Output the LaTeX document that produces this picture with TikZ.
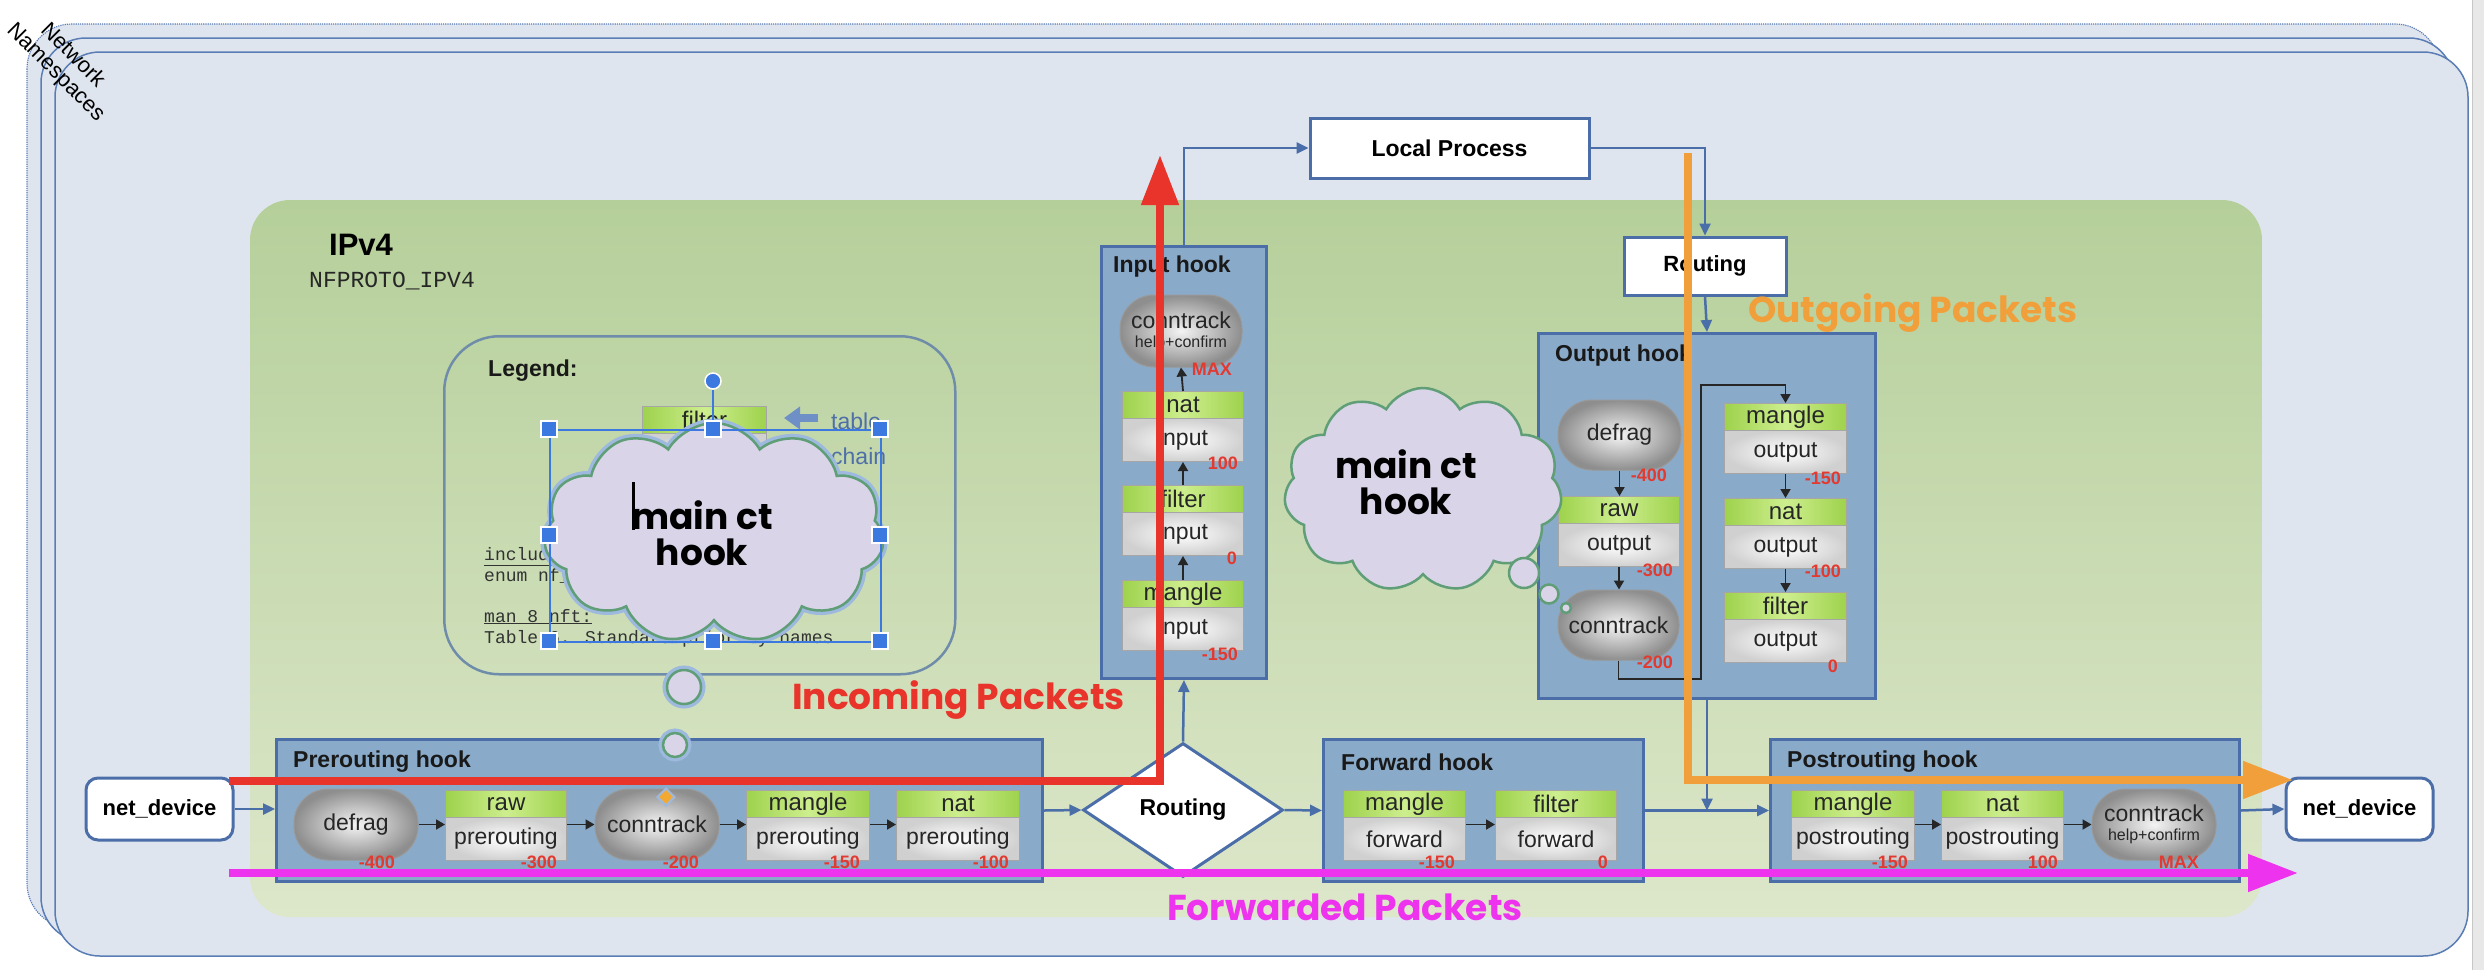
\documentclass[tikz,border=0pt]{standalone}
\usepackage{fontspec}
\setmainfont{Liberation Sans}
\newfontfamily\popfont{Poppins}
\newfontfamily\lmono{Liberation Mono}
\usetikzlibrary{shapes.geometric,shapes.symbols,arrows.meta,calc}
\newcommand\fsz[1]{\fontsize{#1}{#1}\selectfont}
\definecolor{frameFill}{HTML}{DFE5EE}
\definecolor{frameLine}{HTML}{5A7DB5}
\definecolor{greenTop}{HTML}{B5CF9A}
\definecolor{greenBot}{HTML}{DDE7CA}
\definecolor{hookFill}{HTML}{8AAAC9}
\definecolor{hookLine}{HTML}{4B6EA9}
\definecolor{hdrA}{HTML}{9ED24C}
\definecolor{hdrB}{HTML}{CDEE8E}
\definecolor{bodyG}{HTML}{D0D0D0}
\definecolor{pillIn}{HTML}{F4F4F4}
\definecolor{pillOut}{HTML}{8E8E8E}
\definecolor{prioRed}{HTML}{E23A30}
\definecolor{conn}{HTML}{4A6FA8}
\definecolor{inRed}{HTML}{E8342A}
\definecolor{outOrg}{HTML}{F09F3A}
\definecolor{fwdPink}{HTML}{EE33EE}
\definecolor{cloudFill}{HTML}{D9D4E8}
\definecolor{cloudLine}{HTML}{5F9E76}
\definecolor{glow}{HTML}{9DB9DE}
\definecolor{selBlue}{HTML}{3B78E0}
\definecolor{legLine}{HTML}{6F8DAA}
\definecolor{tblBlue}{HTML}{4F6FA8}
\definecolor{tblArrow}{HTML}{6E90C6}
\newcommand\tbl[6]{%
  \node[hdr, minimum width=#4pt, anchor=north west] (#1h) at (#2,#3) {#5};
  \node[bdy, minimum width=#4pt, anchor=north west] (#1) at (#2,#3+27) {#6};}
\begin{document}
\begin{tikzpicture}[x=1pt,y=-1pt,
 hook/.style={draw=hookLine, fill=hookFill, line width=3pt, inner sep=0pt, anchor=north west},
 hdr/.style={draw=black!35, line width=1pt, left color=hdrA, right color=hdrA, middle color=hdrB, minimum height=27pt, inner sep=0pt, font=\fsz{24}, text=black!85},
 bdy/.style={draw=black!35, line width=1pt, inner color=white, outer color=bodyG, minimum height=43pt, inner sep=0pt, font=\fsz{23}, text=black!85},
 pill/.style={draw=black!40, line width=1pt, rounded corners=34pt, inner color=pillIn, outer color=pillOut, inner sep=0pt, align=center, font=\fsz{23}, text=black!85},
 prio/.style={text=prioRed, font=\bfseries\fsz{18}, inner sep=0pt, anchor=east},
 title/.style={font=\bfseries\fsz{23}, inner sep=0pt, anchor=west, text=black!90},
 wbox/.style={draw=hookLine, fill=white, line width=3pt, inner sep=0pt, font=\bfseries\fsz{22}},
 conn/.style={draw=conn, line width=2.5pt, -{Triangle[length=12pt,width=11pt]}},
 ia/.style={draw=black!85, line width=1.8pt, -{Triangle[length=9pt,width=10pt]}},
 pk/.style={line width=8pt, line join=miter, -{Triangle[length=50pt,width=36pt]}},
 pklab/.style={font=\popfont\bfseries\fsz{36}, inner sep=0pt, anchor=base west},
 cl/.style={cloud, cloud puffs=11, cloud puff arc=120, fill=cloudFill, draw=cloudLine, line width=2.5pt, inner sep=0pt},
 bub/.style={circle, fill=cloudFill, draw=cloudLine, line width=2.5pt, inner sep=0pt},
 glw/.style={preaction={draw=glow, line width=9pt}},
 cltext/.style={font=\popfont\bfseries\fsz{36}, align=center, inner sep=0pt},
 handle/.style={draw=white, line width=1.5pt, fill=selBlue, minimum size=16pt, inner sep=0pt},
 mono/.style={font=\lmono\fsz{18}, inner sep=0pt, anchor=base west, text=black!80},
]
\useasboundingbox (0,0) rectangle (2484,970);
\fill[white] (0,0) rectangle (2484,970);
\fill[black!9] (2472,0) rectangle (2484,970);
\draw[black!22, line width=1pt] (2472,0) -- (2472,970);
% namespace frames
\draw[frameLine, densely dotted, line width=1.2pt, fill=frameFill, rounded corners=45pt] (27,24) rectangle (2440,928);
\draw[frameLine, line width=1.5pt, fill=frameFill, rounded corners=45pt] (41,38) rectangle (2454,942);
\draw[frameLine, line width=1.5pt, fill=frameFill, rounded corners=45pt] (55,52) rectangle (2468,956);
\node[rotate=-45, align=center, font=\fontsize{22}{24}\selectfont, inner sep=0pt] (ns) at (64,64) {Network\\Namespaces};
% IPv4 region
\shade[top color=greenTop, bottom color=greenBot, rounded corners=40pt] (250,200) rectangle (2262,917);
\node[font=\bfseries\fsz{31}, inner sep=0pt, anchor=base west] (ipv4) at (329,255) {IPv4};
\node[font=\lmono\fsz{23}, inner sep=0pt, anchor=base west, text=black!85] (nfp) at (309,287) {NFPROTO\_IPV4};
% legend
\node[draw=legLine, line width=2.5pt, rounded corners=55pt, minimum width=511pt, minimum height=338pt, anchor=north west] (legend) at (443,335) {};
\node[title] (legt) at (488,371) {Legend:};
\tbl{lf}{642}{406}{124}{filter}{}
\coordinate (ta0) at (818,418); \coordinate (ta1) at (784,418);
\draw[tblArrow, line width=8pt, -{Triangle[length=16pt,width=22pt]}] (ta0) -- (ta1);
\node[font=\fsz{23}, text=tblBlue, anchor=west, inner sep=0pt] (ltab) at (831,421) {table};
\node[font=\fsz{23}, text=tblBlue, anchor=west, inner sep=0pt] (lch) at (831,456) {chain};
\node[mono] (li1) at (484,560) {\underline{include/uapi/linux/netfilter\_ipv4.h:}};
\node[mono] (li2) at (484,581) {enum nf\_ip\_hook\_priorities};
\node[mono] (li3) at (484,622) {\underline{man 8 nft:}};
\node[mono] (li4) at (484,643) {Table 6. Standard priority names};
% hooks
\node[hook, minimum width=766pt, minimum height=142pt] (pre) at (275,738) {};
\node[hook, minimum width=320pt, minimum height=142pt] (fwd) at (1322,738) {};
\node[hook, minimum width=469pt, minimum height=142pt] (post) at (1769,738) {};
\node[hook, minimum width=165pt, minimum height=432pt] (inp) at (1100,245) {};
\node[hook, minimum width=337pt, minimum height=365pt] (out) at (1537,332) {};
\node[title] (pret) at (293,762) {Prerouting hook};
\node[title] (fwdt) at (1341,762) {Forward hook};
\node[title] (postt) at (1787,762) {Postrouting hook};
\node[title] (inpt) at (1113,267) {Input hook};
\node[title] (outt) at (1555,356) {Output hook};
% prerouting
\node[pill, minimum width=124pt, minimum height=71pt] (pdef) at (356,824.5) {defrag};
\tbl{praw}{445}{790}{121}{raw}{prerouting}
\node[pill, minimum width=124pt, minimum height=71pt] (pct) at (657,824.5) {conntrack};
\tbl{pman}{746}{790}{123}{mangle}{prerouting}
\tbl{pnat}{896}{790}{123}{nat}{prerouting}
\node[prio] (pp1) at (395,862) {-400};
\node[prio] (pp2) at (557,862) {-300};
\node[prio] (pp3) at (699,862) {-200};
\node[prio] (pp4) at (860,862) {-150};
\node[prio] (pp5) at (1009,862) {-100};
% forward
\tbl{fman}{1343}{790}{122}{mangle}{forward}
\tbl{ffil}{1495}{790}{121}{filter}{forward}
\node[prio] (fp1) at (1455,862) {-150};
\node[prio] (fp2) at (1608,862) {0};
% postrouting
\tbl{qman}{1791}{790}{123}{mangle}{postrouting}
\tbl{qnat}{1941}{790}{122}{nat}{postrouting}
\node[pill, minimum width=124pt, minimum height=71pt] (qct) at (2154,824.5) {conntrack\\[-4pt]\fsz{16}help+confirm};
\node[prio] (qp1) at (1908,862) {-150};
\node[prio] (qp2) at (2058,862) {100};
\node[prio] (qp3) at (2199,862) {MAX};
% input
\node[pill, minimum width=122pt, minimum height=72pt] (ict) at (1181,331) {conntrack\\[-4pt]\fsz{16}help+confirm};
\tbl{inat}{1122}{391}{121}{nat}{input}
\tbl{ifil}{1122}{485}{121}{filter}{input}
\tbl{iman}{1122}{580}{121}{mangle}{input}
\node[prio] (ip1) at (1232,369) {MAX};
\node[prio] (ip2) at (1238,463) {100};
\node[prio] (ip3) at (1237,558) {0};
\node[prio] (ip4) at (1238,654) {-150};
% output
\node[pill, minimum width=123pt, minimum height=70pt] (odef) at (1619.5,435) {defrag};
\tbl{oraw}{1558}{496}{121}{raw}{output}
\node[pill, minimum width=121pt, minimum height=70pt] (oct) at (1618.5,625) {conntrack};
\tbl{oman}{1724}{403}{122}{mangle}{output}
\tbl{onat}{1724}{498}{122}{nat}{output}
\tbl{ofil}{1724}{592}{122}{filter}{output}
\node[prio] (op1) at (1667,475) {-400};
\node[prio] (op2) at (1673,570) {-300};
\node[prio] (op3) at (1673,662) {-200};
\node[prio] (op4) at (1841,478) {-150};
\node[prio] (op5) at (1841,571) {-100};
\node[prio] (op6) at (1838,666) {0};
% main boxes
\node[wbox, rounded corners=12pt, minimum width=147pt, minimum height=62pt] (nl) at (159.5,809) {net\_device};
\node[wbox, rounded corners=12pt, minimum width=147pt, minimum height=62pt] (nr) at (2359.5,809) {net\_device};
\node[diamond, draw=hookLine, fill=white, line width=3pt, minimum width=200pt, minimum height=134pt, aspect=1.49, inner sep=0pt, font=\bfseries\fsz{23}] (dia) at (1183,810) {Routing};
\node[wbox, minimum width=279pt, minimum height=60pt, font=\bfseries\fsz{23}] (lp) at (1449.5,148) {Local Process};
\node[wbox, minimum width=162pt, minimum height=58pt] (rt) at (1705,266) {Routing};
% connectors
\draw[conn] (nl.east) -- (pre.west |- nl.east);
\draw[conn] (pre.east) -- (dia.west);
\draw[conn] (dia.east) -- (fwd.west);
\draw[conn] (fwd.east) -- (post.west);
\draw[conn] (post.east) -- (nr.west);
\draw[conn] (dia.north) -- (inp.south);
\draw[conn] (inp.north) |- (lp.west);
\draw[conn] (lp.east) -| (rt.north);
\draw[conn] (rt.south) -- (out.north);
\coordinate (j) at (out.south |- fwd.east);
\draw[conn] (out.south) -- (j);
% internal arrows
\draw[ia] (pdef.east) -- (pdef.east -| praw.west);
\draw[ia] (praw.east |- pct.west) -- (pct.west);
\draw[ia] (pct.east) -- (pct.east -| pman.west);
\draw[ia] (pman.east |- pct.east) -- (pnat.west |- pct.east);
\draw[ia] (fman.east |- pct.east) -- (ffil.west |- pct.east);
\draw[ia] (qman.east |- pct.east) -- (qnat.west |- pct.east);
\draw[ia] (qnat.east |- qct.west) -- (qct.west);
\draw[ia] (imanh.north) -- (ifil.south);
\draw[ia] (ifilh.north) -- (inat.south);
\draw[ia] (inath.north) -- (ict.south);
\draw[ia] (odef.south) -- (odef.south |- orawh.north);
\draw[ia] (oraw.south) -- (oraw.south |- oct.north);
\coordinate (oc1) at (1701,679);
\coordinate (oc2) at (1701,385);
\draw[ia] (oct.south) |- (oc1) -- (oc2) -| (omanh.north);
\draw[ia] (oman.south) -- (onath.north);
\draw[ia] (onat.south) -- (ofilh.north);
% orange marker on conntrack
\node[diamond, fill=outOrg!90!yellow, draw=glow, line width=2pt, minimum width=18pt, minimum height=18pt, inner sep=0pt] (mk) at (666,797) {};
% clouds
\node[cl, glw, minimum width=340pt, minimum height=220pt] (c1) at (714,533) {};
\node[bub, glw, minimum size=34pt] (b1) at (684,687) {};
\node[bub, glw, minimum size=24pt] (b2) at (675,745) {};
\node[cl, minimum width=278pt, minimum height=204pt] (c2) at (1423,490) {};
\node[bub, minimum size=30pt] (b3) at (1524,573) {};
\node[bub, minimum size=19pt] (b4) at (1549,594) {};
\node[bub, minimum size=10pt] (b5) at (1566,608) {};
\node[cltext] (c1t) at (702,533) {\fontsize{36}{48}\selectfont main ct\\hook};
\node[cltext] (c2t) at (1406,482) {\fontsize{36}{50}\selectfont main ct\\hook};
% selection
\node[draw=selBlue, line width=2pt, minimum width=331pt, minimum height=212pt, anchor=north west, inner sep=0pt] (sel) at (549,429) {};
\foreach \hx/\hy [count=\i] in {549/429, 713/429, 880/429, 549/535, 880/535, 549/641, 713/641, 880/641}
  \node[handle] (h\i) at (\hx,\hy) {};
\node[circle, draw=white, line width=1.5pt, fill=selBlue, minimum size=16pt, inner sep=0pt] (rot) at (713,381) {};
\draw[selBlue, line width=2pt] (rot) -- (h2);
\draw[black, line width=3pt] (633,482) -- (633,530);
% packet paths
\coordinate (r0) at (229,781); \coordinate (r1) at (1160,781); \coordinate (r2) at (1160,155);
\draw[pk, inRed] (r0) -- (r1) -- (r2);
\coordinate (o0) at (1688,153); \coordinate (o1) at (1688,780); \coordinate (o2) at (2293,780);
\draw[pk, outOrg] (o0) -- (o1) -- (o2);
\coordinate (f0) at (229,873); \coordinate (f1) at (2298,873);
\draw[pk, fwdPink] (f0) -- (f1);
\node[pklab, text=inRed] (inlab) at (792,709) {Incoming Packets};
\node[pklab, text=fwdPink] (fwlab) at (1167,920) {Forwarded Packets};
\node[pklab, text=outOrg] (oulab) at (1748,322) {Outgoing Packets};
\end{tikzpicture}
\end{document}
